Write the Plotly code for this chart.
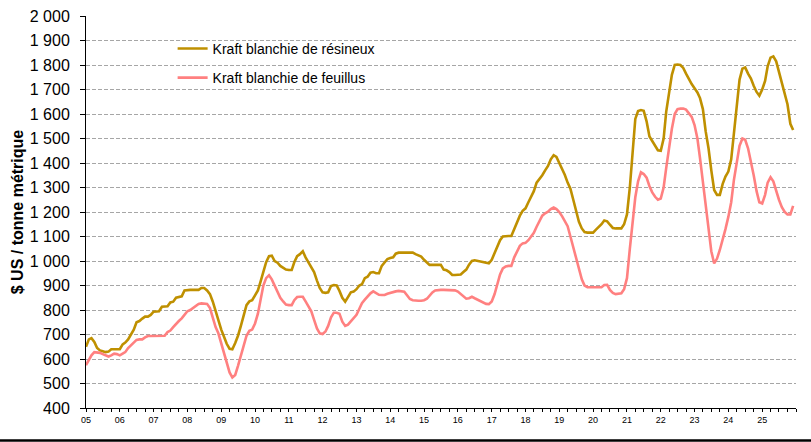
import pandas as pd
import plotly.graph_objects as go

# Monthly prices, US$ per metric tonne (Jan 2005 - Dec 2025)
resineux = [
    650, 680, 685, 670, 645, 635, 632, 628, 630, 640, 640, 640,            # 2005
    640, 660, 667, 680, 700, 720, 750, 755, 765, 773, 773, 780,            # 2006
    793, 793, 795, 813, 813, 815, 831, 834, 850, 854, 856, 880,            # 2007
    882, 882, 882, 882, 882, 890, 890, 880, 865, 835, 795, 760,            # 2008
    720, 690, 662, 642, 640, 665, 695, 735, 780, 820, 835, 840,            # 2009
    860, 880, 915, 955, 995, 1020, 1022, 1000, 993, 980, 972, 965,         # 2010
    963, 963, 995, 1020, 1028, 1040, 1015, 995, 978, 955, 920, 890,        # 2011
    872, 870, 872, 898, 902, 900, 878, 850, 834, 852, 872, 875,            # 2012
    885, 900, 905, 930, 936, 952, 955, 950, 950, 980, 995, 1008,           # 2013
    1012, 1015, 1030, 1034, 1034, 1034, 1034, 1034, 1034, 1028, 1024, 1018,  # 2014
    1005, 992, 984, 984, 984, 984, 984, 965, 962, 955, 943, 943,           # 2015
    943, 945, 955, 965, 985, 1000, 1003, 1001, 998, 995, 993, 991,         # 2016
    1005, 1035, 1062, 1085, 1100, 1102, 1102, 1102, 1130, 1160, 1185, 1205,  # 2017
    1215, 1240, 1260, 1285, 1320, 1333, 1350, 1370, 1388, 1415, 1432, 1425,  # 2018
    1400, 1378, 1352, 1320, 1295, 1250, 1205, 1160, 1133, 1118, 1116, 1116,  # 2019
    1116, 1128, 1138, 1150, 1165, 1162, 1148, 1135, 1133, 1133, 1133, 1150,  # 2020
    1190, 1300, 1450, 1580, 1612, 1616, 1613, 1570, 1508, 1490, 1473, 1452,  # 2021
    1450, 1500, 1610, 1680, 1760, 1800, 1802, 1800, 1788, 1765, 1740, 1722,  # 2022
    1705, 1688, 1665, 1620, 1530, 1460, 1370, 1290, 1270, 1270, 1315, 1345,  # 2023
    1365, 1415, 1520, 1630, 1740, 1785, 1790, 1765, 1745, 1715, 1690, 1675,  # 2024
    1700, 1735, 1795, 1830, 1835, 1815, 1770, 1720, 1685, 1640, 1560, 1535,  # 2025
]

feuillus = [
    575, 595, 615, 628, 628, 625, 620, 614, 610, 615, 622, 620,            # 2005
    615, 622, 628, 645, 655, 665, 678, 680, 680, 688, 694, 694,            # 2006
    694, 694, 694, 694, 695, 710, 716, 730, 745, 755, 766, 780,            # 2007
    795, 800, 808, 815, 825, 827, 827, 825, 808, 770, 730, 705,            # 2008
    665, 625, 585, 545, 525, 535, 572, 610, 655, 695, 715, 720,            # 2009
    745, 785, 840, 900, 930, 942, 925, 900, 875, 850, 835, 822,            # 2010
    820, 820, 840, 853, 854, 854, 835, 815, 795, 760, 725, 705,            # 2011
    702, 712, 735, 770, 789, 789, 785, 752, 735, 740, 752, 768,            # 2012
    780, 805, 828, 842, 855, 868, 876, 870, 862, 861, 861, 866,            # 2013
    870, 872, 876, 878, 877, 875, 860, 845, 840, 838, 838, 838,            # 2014
    840, 846, 860, 872, 880, 882, 882, 882, 882, 882, 882, 880,            # 2015
    875, 866, 856, 846, 848, 854, 848, 842, 836, 830, 825, 824,            # 2016
    835, 865, 905, 945, 970, 978, 980, 980, 1015, 1040, 1062, 1072,        # 2017
    1074, 1085, 1098, 1115, 1140, 1162, 1185, 1195, 1201, 1212, 1218, 1212,  # 2018
    1200, 1182, 1162, 1142, 1100, 1058, 1010, 965, 925, 900, 893, 893,     # 2019
    893, 893, 893, 893, 902, 903, 882, 870, 865, 865, 868, 885,            # 2020
    930, 1050, 1160, 1260, 1325, 1362, 1355, 1340, 1305, 1280, 1262, 1250,  # 2021
    1255, 1300, 1380, 1470, 1540, 1600, 1620, 1622, 1622, 1618, 1605, 1588,  # 2022
    1555, 1500, 1420, 1320, 1230, 1120, 1040, 990, 1010, 1045, 1085, 1130,  # 2023
    1180, 1240, 1330, 1400, 1470, 1500, 1495, 1460, 1410, 1350, 1285, 1240,  # 2024
    1235, 1270, 1320, 1342, 1325, 1285, 1250, 1220, 1200, 1190, 1190, 1225,  # 2025
]

months = pd.date_range(start="2005-01-01", periods=len(resineux), freq="MS")

year_ticks = [f"{y}-01-01" for y in range(2005, 2026)]
year_labels = ["05", "06", "07", "08", "09", "10", "11", "12", "13", "14", "15",
               "16", "17", "18", "19", "20", "21", "22", "23", "24", "25"]

y_ticks = [400, 500, 600, 700, 800, 900, 1000, 1100, 1200, 1300, 1400,
           1500, 1600, 1700, 1800, 1900, 2000]
y_labels = ["400", "500", "600", "700", "800", "900", "1 000", "1 100", "1 200",
            "1 300", "1 400", "1 500", "1 600", "1 700", "1 800", "1 900", "2 000"]

series_names = ["Kraft blanchie de résineux", "Kraft blanchie de feuillus"]
series_colors = ["#BF9000", "#FF8080"]

fig = go.Figure()
for i, (name, vals, col) in enumerate(zip(series_names, [resineux, feuillus], series_colors)):
    fig.add_trace(go.Scatter(
        x=months, y=vals, name=name, mode="lines",
        line=dict(color=col, width=2.6),
        legendgroup=f"g{i}",
    ))

base_font = "Liberation Sans, Arial, sans-serif"
narrow_font = "Liberation Sans Narrow, Arial Narrow, sans-serif"

fig.update_layout(
    width=811, height=442,
    margin=dict(l=86, r=15, t=16, b=34),
    paper_bgcolor="white", plot_bgcolor="white",
    font=dict(family=base_font, color="#000000"),
    showlegend=True,
    legend=dict(
        x=0.122, y=0.957, xanchor="left", yanchor="top",
        bgcolor="rgba(0,0,0,0)", borderwidth=0,
        font=dict(family=base_font, size=14, color="#000000"),
        traceorder="grouped", tracegroupgap=8,
    ),
    xaxis=dict(
        range=["2005-01-01", "2026-01-01"],
        automargin=False,
        tickmode="array", tickvals=year_ticks, ticktext=year_labels,
        tickfont=dict(family=narrow_font, size=9, color="#000000"),
        ticks="outside", ticklen=3, tickcolor="#000000", tickwidth=1,
        minor=dict(dtick="M3", ticks="outside", ticklen=3, tickcolor="#000000", showgrid=False),
        showline=True, linecolor="#000000", linewidth=1,
        showgrid=False, zeroline=False,
        ticklabelstandoff=0,
    ),
    yaxis=dict(
        range=[400, 2000],
        automargin=False,
        tickmode="array", tickvals=y_ticks, ticktext=y_labels,
        tickfont=dict(family=base_font, size=16, color="#000000"),
        ticks="outside", ticklen=5, tickcolor="#000000", tickwidth=1,
        showline=True, linecolor="#000000", linewidth=1,
        showgrid=True, gridcolor="#A6A6A6", gridwidth=1, griddash="4px,2px",
        zeroline=False,
        ticklabelstandoff=7,
        title=dict(text="<b>$ US / tonne métrique</b>", standoff=2,
                   font=dict(family=base_font, size=16, color="#000000")),
    ),
)

# bottom rule under the chart
fig.add_shape(type="line", xref="paper", yref="paper",
              x0=-0.13, x1=1.03, y0=-0.083, y1=-0.083,
              line=dict(color="#000000", width=2.5))

# remove the browser's default page margin so the figure sits at the window origin
fig.write_html("out.html", config={"displayModeBar": False},
               post_script="document.body.style.margin='0';")
